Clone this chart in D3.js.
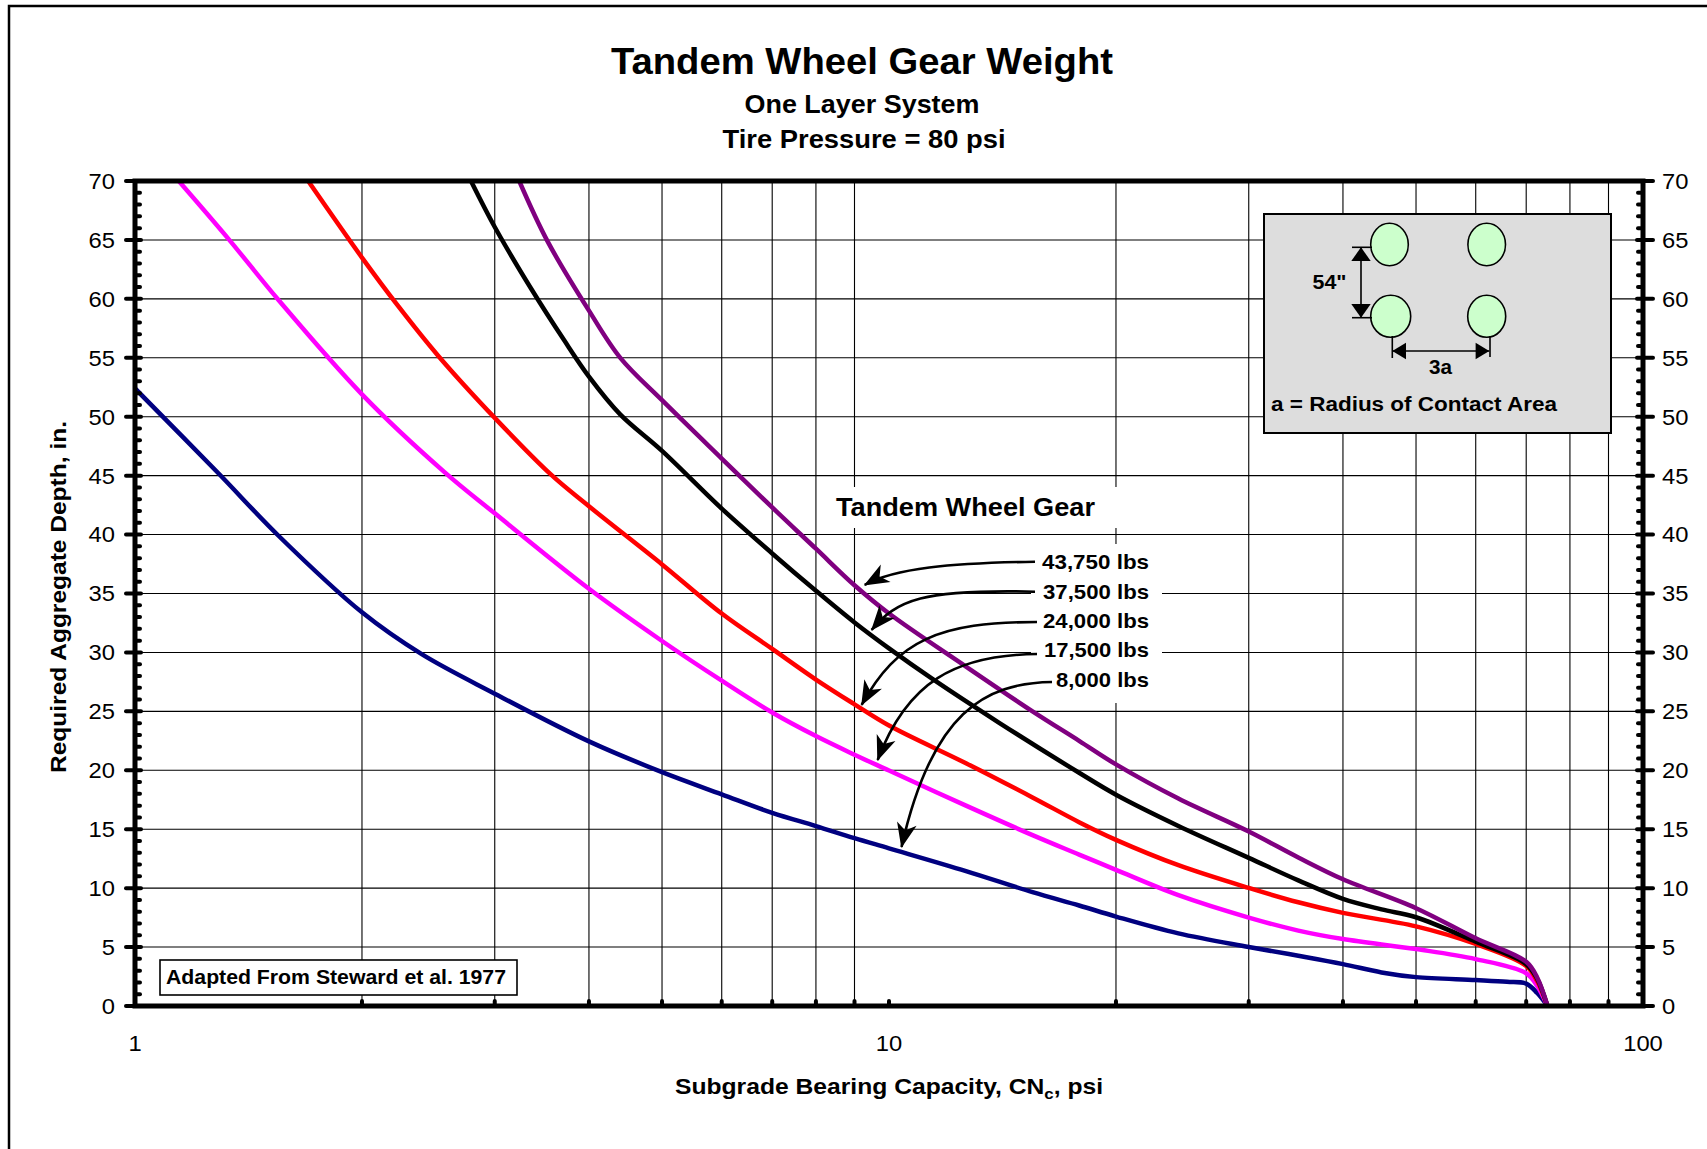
<!DOCTYPE html>
<html><head><meta charset="utf-8">
<script src="https://cdn.jsdelivr.net/npm/d3@7"></script>
<style>
html,body{margin:0;padding:0;background:#fff;}
svg{display:block;}
text{font-family:"Liberation Sans",Arial,Helvetica,sans-serif;fill:#000;}
</style></head><body>
<svg id="chart" width="1707" height="1149"></svg>
<script>
// ---------------- data ----------------
const titleText = "Tandem Wheel Gear Weight";
const subtitleLines = ["One Layer System", "Tire Pressure = 80 psi"];
const xTickValues = [1, 10, 100];
const xTickLabels = ["1", "10", "100"];
const xGridValues = [2,3,4,5,6,7,8,9,20,30,40,50,60,70,80,90];
const xMinorTickValues = [2,3,4,5,6,7,8,9,10,20,30,40,50,60,70,80,90];
const yTickValues = [0,5,10,15,20,25,30,35,40,45,50,55,60,65,70];
const yTickLabels = ["0","5","10","15","20","25","30","35","40","45","50","55","60","65","70"];
const seriesNames = ["43,750 lbs", "37,500 lbs", "24,000 lbs", "17,500 lbs", "8,000 lbs"];
const seriesColors = ["#800080", "#000000", "#ff0000", "#ff00ff", "#000080"];

const load43750 = [[3.233,70],[3.524,64.9],[4,59.0],[4.405,54.97],[5,51.4],[6,46.45],[7,42.3],[8,38.8],[9,35.7],[10,33.3],[12.65,28.8],[15.5,25.0],[17.87,22.5],[20,20.5],[24.2,17.6],[30,14.8],[34.9,12.6],[40,10.75],[50,8.3],[60,5.74],[70,3.75],[72.4,2.4],[74.7,0]];
const load37500 = [[2.79,70],[3,66.1],[3.35,60.9],[3.707,56.5],[4,53.4],[4.4,50.2],[5,47.1],[6,42.2],[7,38.4],[8,35.23],[9,32.54],[10,30.34],[11.43,27.73],[14,24.03],[17.87,19.79],[20,17.93],[24.2,15.28],[30,12.57],[34.9,10.66],[40,9.09],[45,8.2],[50,7.53],[60,5.45],[70,3.55],[72.4,2.3],[74.7,0]];
const load24000 = [[1.697,70],[2,63.5],[2.233,59.4],[2.522,55.2],[3,49.9],[3.56,45.1],[4,42.4],[5,37.47],[6,33.3],[7,30.3],[8,27.7],[9,25.6],[10,23.8],[12.65,20.6],[15.5,17.7],[17.87,15.6],[20,14.1],[24.2,11.95],[30,10.02],[34.9,8.8],[40,7.9],[50,6.76],[60,5.26],[70,3.4],[72.4,2.1],[74.7,0]];
const load17500 = [[1.143,70],[1.331,65.07],[1.55,59.9],[2,51.9],[2.573,45.3],[3,41.8],[4,35.4],[5,30.97],[6,27.6],[7,24.9],[8,22.9],[9,21.32],[10,19.98],[12.65,17.0],[15.5,14.5],[17.87,12.85],[20,11.55],[24.2,9.4],[30,7.5],[34.9,6.4],[40,5.68],[50,4.83],[60,3.98],[70,2.78],[72.4,1.7],[74.7,0]];
const load8000 = [[1,52.4],[1.29,45.2],[1.55,39.9],[2,33.4],[2.4,29.85],[3,26.5],[4,22.45],[5,19.84],[6,17.96],[7,16.39],[8,15.27],[9,14.24],[10,13.38],[12.65,11.45],[15.5,9.66],[17.87,8.53],[20,7.59],[24.2,6.16],[30,5.01],[34.9,4.26],[40,3.55],[45,2.85],[50,2.45],[60,2.2],[66,2.05],[70,1.9],[72.4,1.1],[74.7,0]];
// arrow tip positions on curves (data coords)
const arrowTipX = [9.285, 9.483, 9.199, 9.659, 10.39];
const arrowTipY = [35.73, 31.91, 25.54, 20.87, 13.49];

const seriesData = [load43750, load37500, load24000, load17500, load8000];

// ---------------- layout ----------------
const W = 1707, H = 1149;
const plot = {left: 135, right: 1643, top: 181, bottom: 1006};
const svg = d3.select("#chart");
const x = d3.scaleLog().domain([1, 100]).range([plot.left, plot.right]);
const y = d3.scaleLinear().domain([0, 70]).range([plot.bottom, plot.top]);

const defs = svg.append("defs");
defs.append("clipPath").attr("id", "plotClip").append("rect")
  .attr("x", plot.left).attr("y", plot.top)
  .attr("width", plot.right - plot.left).attr("height", plot.bottom - plot.top);
defs.append("marker").attr("id", "ah").attr("markerUnits", "userSpaceOnUse")
  .attr("viewBox", "-28 -14 30 28").attr("markerWidth", 30).attr("markerHeight", 28)
  .attr("refX", 0).attr("refY", 0).attr("orient", "auto")
  .append("path").attr("d", "M1,0 L-24,-10 L-17,0 L-24,10 Z").attr("fill", "#000");

svg.append("rect").attr("width", W).attr("height", H).attr("fill", "#fff");
// outer frame
svg.append("rect").attr("x", 9).attr("y", 6).attr("width", W + 20).attr("height", H + 20)
  .attr("fill", "none").attr("stroke", "#000").attr("stroke-width", 2.5);

function boldText(g, str, xx, yy, size, anchor, len) {
  const t = g.append("text").attr("x", xx).attr("y", yy).attr("font-size", size)
    .attr("font-weight", "bold").attr("text-anchor", anchor).text(str);
  if (len) t.attr("textLength", len).attr("lengthAdjust", "spacingAndGlyphs");
  return t;
}

// titles
boldText(svg, titleText, 862, 74, 36, "middle", 502);
boldText(svg, subtitleLines[0], 862, 112.5, 25, "middle", 235);
boldText(svg, subtitleLines[1], 864, 147.5, 25, "middle", 283);

// gridlines
const grid = svg.append("g").attr("stroke", "#000").attr("stroke-width", 1.1);
grid.selectAll("line.h").data(yTickValues.filter(v => v > 0 && v < 70)).join("line")
  .attr("x1", plot.left).attr("x2", plot.right).attr("y1", d => y(d)).attr("y2", d => y(d));
grid.selectAll("line.v").data(xGridValues).join("line")
  .attr("y1", plot.top).attr("y2", plot.bottom).attr("x1", d => x(d)).attr("x2", d => x(d));

// white label backgrounds
svg.append("rect").attr("x", 826).attr("y", 487).attr("width", 299).attr("height", 41).attr("fill", "#fff");
svg.append("rect").attr("x", 1031).attr("y", 544).attr("width", 131).attr("height", 159).attr("fill", "#fff");

// inset diagram
const inset = svg.append("g");
inset.append("rect").attr("x", 1264).attr("y", 214).attr("width", 347).attr("height", 219)
  .attr("fill", "#dddddd").attr("stroke", "#000").attr("stroke-width", 2);
const wheels = [[1389.5,244.5,18.8,21.2],[1486.7,244.5,18.8,21.2],[1390.7,316.3,20,21],[1486.7,316.3,19,21]];
inset.selectAll("ellipse").data(wheels).join("ellipse")
  .attr("cx", d => d[0]).attr("cy", d => d[1]).attr("rx", d => d[2]).attr("ry", d => d[3])
  .attr("fill", "#ccffcc").attr("stroke", "#000").attr("stroke-width", 1.6);
const dimLines = [[1361,247.3,1361,317.7],[1352,247.3,1372,247.3],[1352,317.7,1372,317.7],
  [1392.3,351,1489.3,351],[1392.3,336,1392.3,358],[1490,336,1490,357]];
inset.selectAll("line.dim").data(dimLines).join("line")
  .attr("x1", d => d[0]).attr("y1", d => d[1]).attr("x2", d => d[2]).attr("y2", d => d[3])
  .attr("stroke", "#000").attr("stroke-width", 1.6);
const dimHeads = ["M1361,247.3 L1351.3,261 L1370.7,261 Z", "M1361,317.7 L1351.3,304 L1370.7,304 Z",
  "M1392.3,351 L1406,342.7 L1406,359.3 Z", "M1489.3,351 L1475.6,342.7 L1475.6,359.3 Z"];
inset.selectAll("path.h").data(dimHeads).join("path").attr("d", d => d).attr("fill", "#000");
boldText(inset, "54\"", 1329.5, 289, 21, "middle", 34);
boldText(inset, "3a", 1440.5, 374.3, 21, "middle", 23);
boldText(inset, "a = Radius of Contact Area", 1271, 410.5, 20, "start", 286);

// source box
svg.append("rect").attr("x", 160).attr("y", 960).attr("width", 357).attr("height", 35)
  .attr("fill", "#fff").attr("stroke", "#000").attr("stroke-width", 1.6);
boldText(svg, "Adapted From Steward et al. 1977", 166, 984, 20, "start", 340);

// curves
const line = d3.line().x(d => x(d[0])).y(d => y(d[1])).curve(d3.curveCatmullRom.alpha(0.5));
svg.append("g").attr("clip-path", "url(#plotClip)")
  .selectAll("path").data(seriesData.slice().reverse()).join("path")
  .attr("d", line).attr("fill", "none")
  .attr("stroke", (d, i) => seriesColors[seriesColors.length - 1 - i])
  .attr("stroke-width", 4.5).attr("stroke-linejoin", "round");

// axes frame
svg.append("rect").attr("x", plot.left).attr("y", plot.top)
  .attr("width", plot.right - plot.left).attr("height", plot.bottom - plot.top)
  .attr("fill", "none").attr("stroke", "#000").attr("stroke-width", 5);
const ticks = svg.append("g").attr("stroke", "#000").attr("stroke-linecap", "round");
const yMinor = d3.range(1, 70).filter(v => v % 5 !== 0);
ticks.selectAll("line.lmin").data(yMinor).join("line")
  .attr("x1", plot.left).attr("x2", plot.left + 5).attr("y1", d => y(d)).attr("y2", d => y(d)).attr("stroke-width", 4);
ticks.selectAll("line.rmin").data(yMinor).join("line")
  .attr("x1", plot.right).attr("x2", plot.right - 5).attr("y1", d => y(d)).attr("y2", d => y(d)).attr("stroke-width", 4);
ticks.selectAll("line.lmaj").data(yTickValues).join("line")
  .attr("x1", plot.left - 9).attr("x2", plot.left + 6).attr("y1", d => y(d)).attr("y2", d => y(d)).attr("stroke-width", 4);
ticks.selectAll("line.rmaj").data(yTickValues).join("line")
  .attr("x1", plot.right - 6).attr("x2", plot.right + 10).attr("y1", d => y(d)).attr("y2", d => y(d)).attr("stroke-width", 4);
ticks.selectAll("line.xmin").data(xMinorTickValues).join("line")
  .attr("x1", d => x(d)).attr("x2", d => x(d)).attr("y1", plot.bottom).attr("y2", plot.bottom - 5).attr("stroke-width", 4);

// tick labels
const tl = svg.append("g").attr("font-size", 22);
tl.selectAll("text.yl").data(yTickValues).join("text")
  .attr("transform", d => `translate(115,${y(d)}) scale(1.08,1)`).attr("text-anchor", "end").attr("dy", "0.36em")
  .text((d, i) => yTickLabels[i]);
tl.selectAll("text.yr").data(yTickValues).join("text")
  .attr("transform", d => `translate(1662,${y(d)}) scale(1.08,1)`).attr("text-anchor", "start").attr("dy", "0.36em")
  .text((d, i) => yTickLabels[i]);
tl.selectAll("text.xl").data(xTickValues).join("text")
  .attr("transform", d => `translate(${x(d)},1043) scale(1.08,1)`).attr("text-anchor", "middle").attr("dy", "0.36em")
  .text((d, i) => xTickLabels[i]);

// axis titles
const xt = svg.append("text").attr("x", 889).attr("y", 1094).attr("text-anchor", "middle")
  .attr("font-size", 22).attr("font-weight", "bold")
  .attr("textLength", 428).attr("lengthAdjust", "spacingAndGlyphs");
xt.append("tspan").text("Subgrade Bearing Capacity, CN");
xt.append("tspan").attr("font-size", 15).attr("dy", 5).text("c");
xt.append("tspan").attr("dy", -5).text(", psi");
svg.append("text").attr("transform", "translate(66,597) rotate(-90)").attr("text-anchor", "middle")
  .attr("font-size", 22).attr("font-weight", "bold")
  .attr("textLength", 352).attr("lengthAdjust", "spacingAndGlyphs")
  .text("Required Aggregate Depth, in.");

// annotations
boldText(svg, "Tandem Wheel Gear", 836, 516, 25, "start", 259);
const labelBaselines = [569.3, 599, 628.3, 657.3, 686.7];
const labelWidths = [107, 106, 106, 105, 93];
const arrowTails = [[1035,561.7],[1035,591.7],[1037,622],[1037,654],[1052,682]];
const arrowC1 = [[950,563],[922,589],[940,622],[955,655],[985,683]];
const arrowC2 = [[895,568],[897,600],[897,640],[907,682],[932,712]];
seriesNames.forEach((name, i) => {
  boldText(svg, name, 1149, labelBaselines[i], 21, "end", labelWidths[i]);
  const tip = [x(arrowTipX[i]), y(arrowTipY[i])];
  const p = d3.path();
  p.moveTo(arrowTails[i][0], arrowTails[i][1]);
  p.bezierCurveTo(arrowC1[i][0], arrowC1[i][1], arrowC2[i][0], arrowC2[i][1], tip[0], tip[1]);
  svg.append("path").attr("d", p.toString()).attr("fill", "none").attr("stroke", "#000")
    .attr("stroke-width", 2.6).attr("marker-end", "url(#ah)");
});
</script>
</body></html>
